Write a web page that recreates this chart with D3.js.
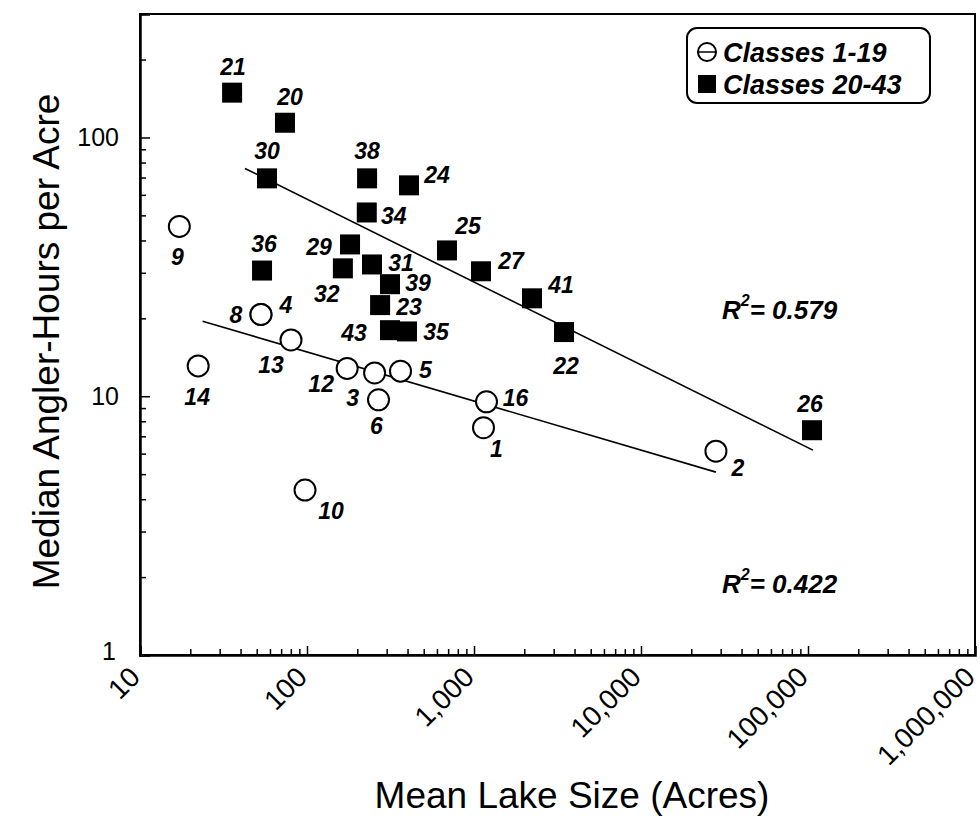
<!DOCTYPE html>
<html>
<head>
<meta charset="utf-8">
<script src="https://cdn.jsdelivr.net/npm/d3@7"></script>
<style>
  html, body { margin: 0; padding: 0; background: #fff; }
  svg text { font-family: "Liberation Sans", Arial, Helvetica, sans-serif; fill: #000; }
</style>
</head>
<body>
<svg id="chart" width="980" height="829"></svg>
<script>
// ---------- data ----------
// Classes 1-19 (open circles)
const circleIds   = ["1","2","3","4","5","6","8","9","10","12","13","14","16"];
const circleSize  = [1140, 28100, 254, 53, 363, 268, 53, 17.2, 97.3, 174, 80.2, 22.3, 1188];
const circleHours = [7.56, 6.13, 12.3, 20.7, 12.5, 9.69, 20.7, 45.3, 4.34, 12.8, 16.5, 13.1, 9.52];

// Classes 20-43 (filled squares)
const squareIds   = ["20","21","22","23","24","25","26","27","29","30","31","32","34","35","36","38","39","41","43"];
const squareSize  = [73.8, 35.6, 3460, 274, 408, 689, 105700, 1101, 181, 57.6, 245, 164, 228, 397, 53.8, 229, 314, 2225, 314];
const squareHours = [114, 149, 17.7, 22.5, 65.3, 36.6, 7.39, 30.4, 38.6, 69.5, 32.3, 31.2, 51.3, 17.8, 30.6, 69.5, 27.1, 23.9, 18.0];

// regression line end points
const fitLowX  = [23.7, 28100];
const fitLowY  = [19.5, 5.09];
const fitHighX = [42.5, 107000];
const fitHighY = [75.9, 6.19];

const xTickValues = [10, 100, 1000, 10000, 100000, 1000000];
const xTickLabels = ["10", "100", "1,000", "10,000", "100,000", "1,000,000"];
const yTickValues = [1, 10, 100];
const yTickLabels = ["1", "10", "100"];

const legendLabels = ["Classes 1-19", "Classes 20-43"];
const r2Labels = ["0.579", "0.422"];

// label placement (pixel offsets from mark centre)
const labelOffset = {
  c1:[13,21], c2:[22,17], c3:[-22,25], c4:[25,-9], c5:[25,-1], c6:[-2,26], c8:[-25,1],
  c9:[-2,31], c10:[26,21], c12:[-26,16], c13:[-20,25], c14:[-1,31], c16:[29,-4],
  s20:[5,-26], s21:[1,-26], s22:[2,34], s23:[29,2], s24:[28,-10], s25:[21,-24],
  s26:[-2,-26], s27:[30,-10], s29:[-31,3], s30:[0,-27], s31:[29,-1], s32:[-16,26],
  s34:[27,4], s35:[29,1], s36:[2,-27], s38:[0,-27], s39:[28,-1], s41:[29,-13], s43:[-36,3]
};

// ---------- layout ----------
const L = 140, R = 975, T = 14, B = 655;
const svg = d3.select("#chart");

const x = d3.scaleLog().domain([10, 1000000]).range([L, R]);
const y = d3.scaleLog().domain([1, 300]).range([B, T]);

// frame
svg.append("rect").attr("x", L).attr("y", T).attr("width", R - L).attr("height", B - T)
  .attr("fill", "none").attr("stroke", "#000").attr("stroke-width", 2);

// minor tick values
const xMinor = [];
for (let d = 10; d < 1000000; d *= 10) for (let k = 2; k <= 9; k++) xMinor.push(d * k);
const yMinor = [];
for (let d = 1; d < 300; d *= 10) for (let k = 2; k <= 9; k++) if (d * k <= 300) yMinor.push(d * k);

// x axis (ticks pointing inward)
const gx = svg.append("g").attr("transform", `translate(0,${B})`)
  .call(d3.axisBottom(x).tickValues(xTickValues).tickSize(-9).tickFormat(""));
gx.append("g").call(d3.axisBottom(x).tickValues(xMinor).tickSize(-6).tickFormat(""))
  .select(".domain").remove();
gx.selectAll(".domain").attr("stroke-width", 2.5);
gx.selectAll(".tick line").attr("stroke-width", 1.5);

svg.append("g").selectAll("text").data(xTickValues).join("text")
  .attr("transform", d => `translate(${x(d) - 5},${B + 17}) rotate(-45)`)
  .attr("text-anchor", "end")
  .attr("dominant-baseline", "central")
  .attr("font-size", 28)
  .text((d, i) => xTickLabels[i]);

// y axis
const gy = svg.append("g").attr("transform", `translate(${L},0)`)
  .call(d3.axisLeft(y).tickValues(yTickValues).tickSize(-10).tickFormat(""));
gy.append("g").call(d3.axisLeft(y).tickValues(yMinor).tickSize(-6).tickFormat(""))
  .select(".domain").remove();
gy.selectAll(".domain").attr("stroke-width", 2.5);
gy.selectAll(".tick line").attr("stroke-width", 1.5);

svg.append("g").selectAll("text").data(yTickValues).join("text")
  .attr("x", d => d === 1 ? L - 24 : L - 21)
  .attr("y", d => y(d) + (d === 1 ? -4 : 0))
  .attr("text-anchor", "end")
  .attr("dominant-baseline", "central")
  .attr("font-size", 25)
  .text((d, i) => yTickLabels[i]);

// axis titles
svg.append("text")
  .attr("transform", `translate(46,${(T + B) / 2 + 7}) rotate(-90)`)
  .attr("text-anchor", "middle").attr("dominant-baseline", "central")
  .attr("font-size", 37)
  .text("Median Angler-Hours per Acre");
svg.append("text")
  .attr("x", 572).attr("y", 795)
  .attr("text-anchor", "middle").attr("dominant-baseline", "central")
  .attr("font-size", 37)
  .text("Mean Lake Size (Acres)");

// regression lines
const line = d3.line().x(d => x(d[0])).y(d => y(d[1]));
svg.append("path").datum(fitLowX.map((v, i) => [v, fitLowY[i]]))
  .attr("d", line).attr("fill", "none").attr("stroke", "#000").attr("stroke-width", 1.6);
svg.append("path").datum(fitHighX.map((v, i) => [v, fitHighY[i]]))
  .attr("d", line).attr("fill", "none").attr("stroke", "#000").attr("stroke-width", 1.6);

// circles
const circles = circleIds.map((id, i) => ({ id, xv: circleSize[i], yv: circleHours[i] }));
svg.append("g").selectAll("circle").data(circles).join("circle")
  .attr("cx", d => x(d.xv)).attr("cy", d => y(d.yv)).attr("r", 10.5)
  .attr("fill", "#fff").attr("stroke", "#000").attr("stroke-width", 2);

// squares
const squares = squareIds.map((id, i) => ({ id, xv: squareSize[i], yv: squareHours[i] }));
const sq = 20;
svg.append("g").selectAll("rect").data(squares).join("rect")
  .attr("x", d => x(d.xv) - sq / 2).attr("y", d => y(d.yv) - sq / 2)
  .attr("width", sq).attr("height", sq).attr("fill", "#000");

// point labels
const labelG = svg.append("g").attr("font-size", 23).attr("font-style", "italic").attr("font-weight", "bold");
labelG.selectAll("text.c").data(circles).join("text").attr("class", "c")
  .attr("x", d => x(d.xv) + labelOffset["c" + d.id][0])
  .attr("y", d => y(d.yv) + labelOffset["c" + d.id][1])
  .attr("text-anchor", "middle").attr("dominant-baseline", "central")
  .text(d => d.id);
labelG.selectAll("text.s").data(squares).join("text").attr("class", "s")
  .attr("x", d => x(d.xv) + labelOffset["s" + d.id][0])
  .attr("y", d => y(d.yv) + labelOffset["s" + d.id][1])
  .attr("text-anchor", "middle").attr("dominant-baseline", "central")
  .text(d => d.id);

// R^2 annotations
function r2(xp, yp, val) {
  const t = svg.append("text").attr("x", xp).attr("y", yp)
    .attr("font-size", 26).attr("font-style", "italic").attr("font-weight", "bold");
  t.append("tspan").text("R");
  t.append("tspan").attr("font-size", 16).attr("dy", -13).text("2");
  t.append("tspan").attr("dy", 13).text("= " + val);
}
r2(722, 319, r2Labels[0]);
r2(722, 593, r2Labels[1]);

// legend
const lg = svg.append("g");
lg.append("rect").attr("x", 687).attr("y", 28).attr("width", 243).attr("height", 75).attr("rx", 10)
  .attr("fill", "#fff").attr("stroke", "#000").attr("stroke-width", 2);
lg.append("line").attr("x1", 697).attr("x2", 717).attr("y1", 52).attr("y2", 52)
  .attr("stroke", "#000").attr("stroke-width", 1.5);
lg.append("circle").attr("cx", 707).attr("cy", 52).attr("r", 9)
  .attr("fill", "none").attr("stroke", "#000").attr("stroke-width", 2);
lg.append("rect").attr("x", 698).attr("y", 75).attr("width", 18).attr("height", 18).attr("fill", "#000");
lg.selectAll("text").data(legendLabels).join("text")
  .attr("x", 723).attr("y", (d, i) => 53 + i * 32)
  .attr("dominant-baseline", "central")
  .attr("font-size", 27).attr("font-style", "italic").attr("font-weight", "bold")
  .text(d => d);
</script>
</body>
</html>
